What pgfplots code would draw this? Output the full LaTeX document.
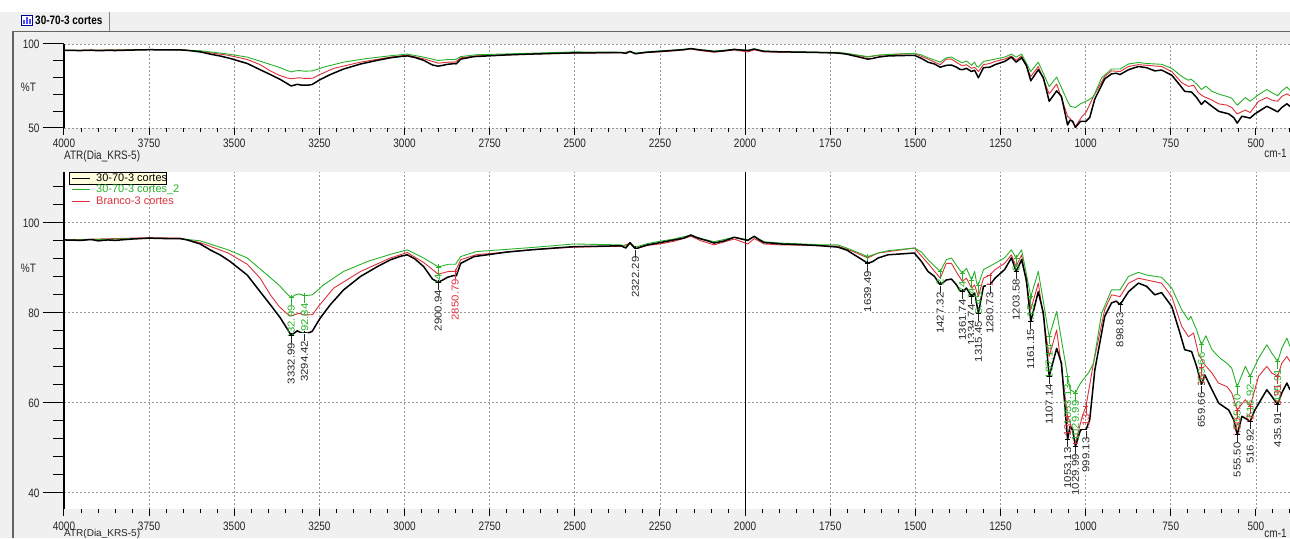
\documentclass[border=0pt]{standalone}
\usepackage{fontspec}
\setmainfont{Liberation Sans}
\usepackage{graphicx}
\usepackage{pgfplots}
\pgfplotsset{compat=1.18}
\usepackage{pgfplotstable}

\definecolor{cgreen}{RGB}{40,178,40}
\definecolor{cred}{RGB}{222,48,58}
\definecolor{bgc}{RGB}{240,240,240}
\definecolor{gridc}{RGB}{150,150,150}
\definecolor{framec}{RGB}{100,100,100}

\newcommand{\vst}[1]{\scalebox{1}[1.22]{#1}}

\pgfplotsset{
  /pgf/number format/assume math mode=true,
  /pgf/number format/set thousands separator={},
  every tick label/.append style={font=\fontsize{10}{12}\selectfont, text=black!85},
}

\pgfplotstableread{
w y
4000 96.2
3950 96.1
3920 96.3
3900 96.0
3870 96.2
3850 96.1
3800 96.4
3750 96.6
3700 96.5
3660 96.5
3638 96.2
3600 95.3
3571 94.0
3540 92.8
3512 91.4
3462 88.4
3424 84.7
3394 81.8
3365 78.9
3345 76.5
3333 75.0
3322 75.6
3315 76.0
3305 75.6
3294 75.5
3280 75.6
3271 75.9
3260 77.3
3247 78.9
3218 81.8
3179 85.1
3129 88.1
3079 90.3
3041 91.8
3010 92.6
2992 92.9
2970 92.0
2944 90.3
2918 87.5
2901 86.8
2885 87.4
2874 87.9
2855 88.3
2848 88.2
2835 91.0
2796 92.5
2747 93.0
2700 93.5
2629 94.0
2560 94.4
2503 94.7
2430 94.8
2365 94.9
2350 94.4
2338 95.6
2322 94.2
2300 94.8
2286 95.1
2250 95.6
2209 96.2
2180 96.6
2159 97.3
2145 96.8
2129 96.4
2110 96.0
2091 95.5
2060 96.0
2032 96.8
2010 96.4
1992 96.1
1973 97.0
1960 96.3
1944 95.6
1920 95.5
1894 95.3
1850 95.2
1800 95.0
1776 94.9
1727 94.6
1700 93.9
1688 93.3
1660 92.0
1640 91.0
1625 91.4
1609 92.2
1580 92.9
1540 93.1
1503 93.3
1482 91.4
1463 89.2
1444 88.1
1427 86.2
1409 87.3
1394 87.5
1379 86.2
1370 85.0
1362 84.7
1350 85.5
1335 83.6
1326 84.4
1320 82.0
1315 79.9
1300 85.9
1281 86.2
1266 87.7
1238 89.6
1218 92.2
1204 89.2
1188 91.8
1174 87.3
1161 78.1
1139 84.7
1124 79.9
1107 65.9
1085 72.1
1071 68.8
1053 51.8
1046 54.7
1038 54.0
1030 50.3
1015 54.0
999 54.0
988 56.2
973 67.3
944 79.2
924 82.2
910 82.6
899 81.8
874 84.7
845 86.6
821 85.9
797 84.0
777 84.5
747 81.4
723 75.5
709 71.8
689 71.4
674 68.1
660 64.0
650 66.2
629 62.9
609 59.9
580 58.4
565 56.2
555 52.9
541 57.0
530 56.5
517 55.9
503 58.4
468 62.9
453 61.4
436 59.6
424 62.2
409 64.4
400 62.9
}\tblack

\pgfplotstableread{
w y
4000 96.2
3900 96.3
3800 96.5
3750 96.6
3660 96.5
3600 96.0
3518 94.0
3462 92.2
3403 88.4
3365 85.9
3345 84.2
3333 83.4
3320 84.0
3310 84.2
3293 83.8
3271 84.0
3255 85.0
3238 86.2
3179 89.2
3109 91.4
3041 93.0
2992 94.0
2944 92.2
2901 90.2
2870 90.8
2850 90.8
2835 92.5
2790 93.6
2629 94.5
2503 95.3
2365 95.1
2350 94.8
2338 95.6
2322 94.6
2286 95.4
2250 95.9
2209 96.4
2159 97.3
2129 96.5
2091 95.8
2032 96.8
1992 96.2
1973 97.0
1944 95.8
1894 95.5
1800 95.2
1776 95.1
1727 95.1
1688 94.0
1640 92.5
1609 93.3
1580 93.8
1503 94.4
1482 93.5
1463 91.8
1427 89.2
1409 91.8
1394 92.2
1379 90.5
1362 88.8
1350 89.9
1335 87.3
1326 89.2
1320 86.6
1315 86.2
1300 89.6
1266 91.0
1238 92.2
1218 94.0
1204 92.2
1188 94.0
1161 83.6
1139 89.2
1107 74.7
1085 80.3
1053 65.9
1045 62.9
1030 62.2
1015 64.4
992 66.6
977 68.8
953 79.9
924 85.1
899 85.1
874 88.1
845 89.0
821 88.4
777 87.9
747 85.5
718 80.7
698 78.4
691 79.2
674 76.2
660 72.9
647 74.9
629 71.8
605 69.9
585 68.8
571 67.7
555 63.6
531 68.1
517 65.9
492 69.9
468 72.9
453 71.0
436 69.2
424 72.1
409 74.4
400 72.5
}\tgreen

\pgfplotstableread{
w y
4000 96.2
3900 96.4
3800 96.6
3750 96.7
3660 96.6
3600 95.6
3518 93.3
3462 90.8
3424 87.7
3394 84.0
3368 81.4
3345 79.8
3333 79.3
3310 79.9
3294 79.5
3270 79.6
3253 81.4
3208 85.5
3129 89.2
3041 92.2
2992 93.4
2944 91.2
2901 88.6
2870 89.2
2851 89.2
2835 91.8
2790 92.9
2629 94.0
2503 94.6
2365 94.8
2338 95.4
2322 94.2
2286 95.0
2250 95.3
2209 95.9
2159 97.0
2129 96.0
2091 95.1
2032 96.4
1992 95.3
1973 96.5
1944 95.3
1894 95.1
1800 95.0
1776 94.9
1727 94.8
1688 93.8
1640 92.2
1609 93.3
1580 93.6
1503 94.4
1482 92.6
1463 91.0
1427 87.7
1409 91.0
1394 91.0
1379 89.0
1362 87.0
1350 87.7
1335 85.5
1326 86.2
1315 83.6
1300 87.7
1281 88.4
1266 89.6
1238 91.0
1218 92.9
1204 90.3
1188 92.9
1161 80.7
1139 86.6
1107 70.3
1085 76.2
1053 57.0
1045 55.5
1030 51.0
1010 57.0
999 59.2
977 68.8
944 80.7
924 84.0
899 83.6
874 86.6
845 87.7
821 87.3
777 86.6
747 83.6
718 77.0
698 74.7
683 75.5
669 71.0
654 68.8
629 66.6
610 64.4
585 63.6
571 62.2
555 58.4
531 60.7
517 59.2
492 65.9
468 68.1
453 66.6
436 65.9
424 68.8
409 70.3
400 69.2
}\tred

\pgfplotstableread{
w y lab
3333 75.0 3332.99
3294 75.5 3294.42
2901 86.8 2900.94
2322 94.2 2322.29
1640 91.0 1639.49
1427 86.2 1427.32
1362 84.7 1361.74
1335 83.6 1334.74
1315 79.9 1315.45
1281 86.2 1280.73
1204 89.2 1203.58
1161 78.1 1161.15
1107 65.9 1107.14
1053 51.8 1053.13
1030 50.3 1029.99
999 54.0 999.13
899 81.8 898.83
660 64.0 659.66
555 52.9 555.50
517 55.9 516.92
436 59.6 435.91
}\lblack

\pgfplotstableread{
w y lab
3333 83.4 3332.99
3293 83.8 3292.84
2901 90.2 2900.94
1640 92.5 1639.49
1427 89.2 1427.32
1362 88.8 1361.74
1335 87.3 1334.74
1315 86.2 1315.45
1204 92.2 1203.58
1161 83.6 1161.15
1107 74.7 1107.14
1053 65.9 1053.13
1030 62.2 1029.99
660 72.9 659.66
555 63.6 555.50
517 65.9 516.92
436 69.2 435.91
}\lgreen

\pgfplotstableread{
w y lab
2851 89.2 2850.79
1281 88.4 1280.73
1053 57.0 1053.13
1030 51.0 1029.99
999 59.2 999.13
660 68.0 659.66
555 58.4 555.50
517 59.2 516.92
436 65.9 435.91
}\lred

\tikzset{peaklab/.style={rotate=90, anchor=east, inner sep=0.4pt, font=\fontsize{10}{11}\selectfont}}
\newcommand{\plab}{\scalebox{1.14}[1]{\pgfplotspointmeta}\rule[0.32em]{7pt}{0.6pt}}

\pgfplotsset{
  dataaxis/.style={
    anchor=south west, scale only axis, width=1226pt,
    x dir=reverse, xmin=400, xmax=4000,
    axis background/.style={fill=white},
    axis y line*=left, axis x line*=bottom,
    x axis line style={draw=none},
    y axis line style={black, line width=1.2pt},
    xtick={500,750,...,4000}, xticklabels={}, x tick style={draw=none},
    xmajorgrids, ymajorgrids,
    extra x ticks={2000}, extra x tick labels={},
    extra x tick style={grid=major, major grid style={solid, black, line width=0.9pt}, x tick style={draw=none}},
    tick align=outside, major tick length=21pt, minor tick length=11pt,
    y tick style={black, line width=1pt},
    yticklabel={\vst{\pgfmathprintnumber{\tick}}},
    grid style={gridc, dash pattern=on 2pt off 2pt, line width=0.8pt},
    ylabel={\vst{\%T}}, ylabel style={rotate=-90, anchor=center, font=\fontsize{10}{12}\selectfont, text=black!85},
  },
  tickaxis/.style={
    anchor=south west, scale only axis, width=1226pt,
    x dir=reverse, xmin=400, xmax=4000, ymin=0, ymax=1,
    hide y axis, axis x line*=bottom, x axis line style={draw=none},
    xtick={500,750,...,4000}, minor xtick={400,450,...,4000},
    tick align=outside, major tick length=7pt, minor tick length=4pt,
    x tick style={black, line width=1pt},
    xticklabel={\vst{\pgfmathprintnumber{\tick}}},
    xticklabel style={anchor=center, inner sep=1pt},
    xlabel={\vst{cm-1}},
    xlabel style={at={(axis description cs:0.9975,0)}, anchor=north east, inner sep=0pt, font=\fontsize{10}{12}\selectfont, text=black!85},
  },
  blk/.style={black, line width=1.5pt, line join=round},
  grn/.style={cgreen, line width=0.9pt, line join=round},
  rd/.style={cred, line width=0.9pt, line join=round},
}

\begin{document}
\begin{tikzpicture}[x=1pt,y=1pt]
\useasboundingbox (0,0) rectangle (1290,538);
\fill[white] (0,0) rectangle (1290,538);
\fill[bgc] (0,0) rectangle (1290,526);
\draw[framec, line width=1.6pt] (13,0) -- (13,506.5) -- (1290,506.5);
\draw[framec!80, line width=0.8pt] (109,507) -- (109,526);
% tab icon
\draw[blue!55!black, line width=0.6pt, fill=white] (21,513) rectangle (32,523);
\fill[blue!70] (23,514) rectangle (24.5,518);
\fill[blue!70] (26,514) rectangle (27.5,521);
\fill[blue!70] (29,514) rectangle (30.5,519);
\node[anchor=west, font=\bfseries\fontsize{10}{12}\selectfont, inner sep=0pt] at (35,518) {\vst{30-70-3 cortes}};

% ---------- top panel ----------
\begin{axis}[dataaxis, at={(64pt,410pt)}, height=84pt, ymin=50, ymax=100,
  ytick={50,100}, minor ytick={60,70,80,90},
  ylabel style={at={(axis description cs:-0.029,0.49)}}]
\addplot[rd] table[x=w,y=y] {\tred};
\addplot[grn] table[x=w,y=y] {\tgreen};
\addplot[blk] table[x=w,y=y] {\tblack};
\end{axis}
\begin{axis}[tickaxis, at={(64pt,410pt)}, height=84pt,
  xticklabel style={yshift=-8.5pt}, xlabel style={yshift=-20.5pt}]
\end{axis}
\node[anchor=north west, font=\fontsize{10}{12}\selectfont, text=black!85, inner sep=0pt] at (64,387.5) {\vst{ATR(Dia\_KRS-5)}};

% ---------- bottom panel ----------
\begin{axis}[dataaxis, at={(64pt,29pt)}, height=337pt, ymin=36.4, ymax=111.3,
  ytick={40,60,80,100}, minor ytick={44,48,52,56,64,68,72,76,84,88,92,96,104,108},
  ylabel style={at={(axis description cs:-0.029,0.715)}},
  reverse legend,
  legend cell align=left,
  legend image code/.code={\draw[#1, line width=0.8pt] (0pt,0pt) -- (18pt,0pt);},
  legend style={at={(axis description cs:0.0055,0.999)}, anchor=north west,
    draw=none, fill=none, font=\fontsize{11}{12}\selectfont, row sep=0pt,
    inner sep=0.5pt, nodes={inner sep=1pt},
    /tikz/every odd column/.append style={column sep=5pt}},
]
\fill[yellow!14!white] (axis description cs:0.004,0.964) rectangle (axis description cs:0.0835,0.9995);
\draw[black, line width=0.7pt] (axis description cs:0.004,0.964) rectangle (axis description cs:0.0835,0.9995);
\addplot[rd] table[x=w,y=y] {\tred};
\addlegendentry{\textcolor{cred}{Branco-3 cortes}}
\addplot[grn] table[x=w,y=y] {\tgreen};
\addlegendentry{\textcolor{cgreen}{30-70-3 cortes\_2}}
\addplot[blk] table[x=w,y=y] {\tblack};
\addlegendentry{\textcolor{black}{30-70-3 cortes}}
\addplot[forget plot, only marks, mark=+, mark size=2.5pt, cgreen, line width=0.6pt,
  point meta=explicit symbolic, nodes near coords={\plab},
  every node near coord/.append style={peaklab, text=cgreen}]
  table[x=w,y=y,meta=lab] {\lgreen};
\addplot[forget plot, only marks, mark=+, mark size=2.5pt, cred, line width=0.6pt,
  point meta=explicit symbolic, nodes near coords={\plab},
  every node near coord/.append style={peaklab, text=cred}]
  table[x=w,y=y,meta=lab] {\lred};
\addplot[forget plot, only marks, mark=+, mark size=2.5pt, black, line width=0.6pt,
  point meta=explicit symbolic, nodes near coords={\plab},
  every node near coord/.append style={peaklab, text=black!85, fill=white}]
  table[x=w,y=y,meta=lab] {\lblack};
\end{axis}
\begin{axis}[tickaxis, at={(64pt,29pt)}, height=337pt,
  xticklabel style={yshift=-10pt}, xlabel style={yshift=-19.5pt}]
\end{axis}
\node[anchor=north west, font=\fontsize{10}{12}\selectfont, text=black!85, inner sep=0pt] at (64,8.5) {ATR(Dia\_KRS-5)};
\end{tikzpicture}
\end{document}
